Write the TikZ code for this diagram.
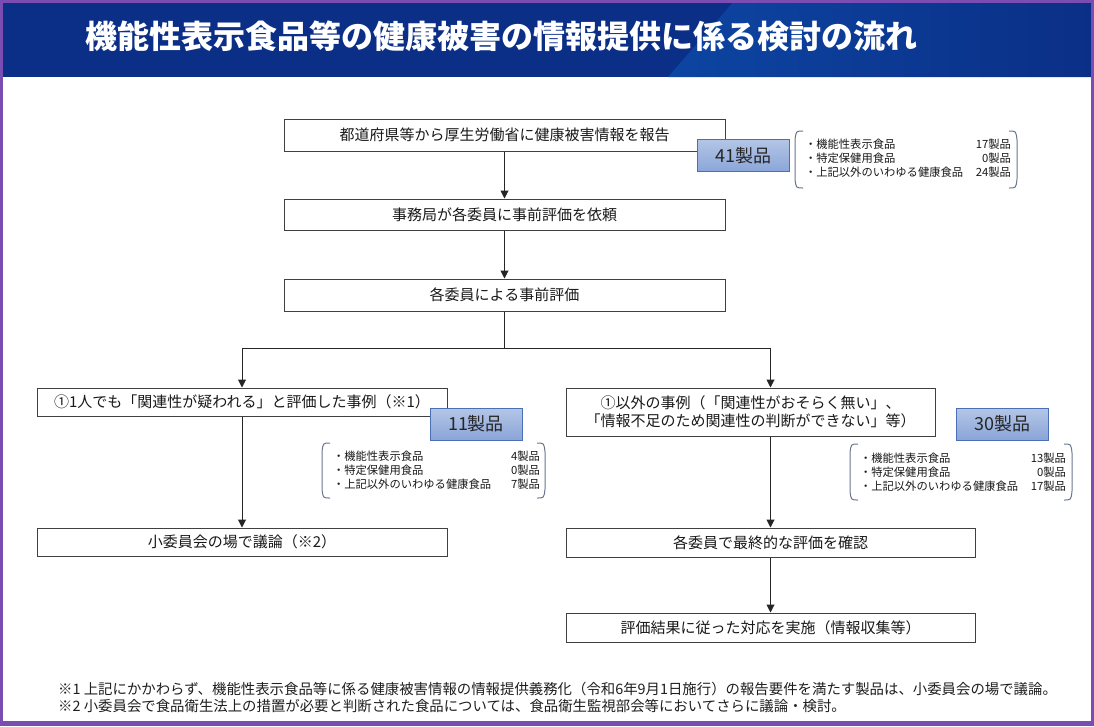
\documentclass[tikz,border=0pt]{standalone}
\usepackage{fontspec}
\setmainfont{Noto Sans CJK JP}
\usetikzlibrary{arrows.meta,calc}
\definecolor{navy}{HTML}{0B2F86}
\definecolor{navylight}{HTML}{0C45A2}
\definecolor{framecol}{HTML}{7A4DB3}
\definecolor{boxline}{HTML}{404040}
\definecolor{cntfillT}{HTML}{B4C6E7}
\definecolor{cntfillB}{HTML}{8AA5D8}
\definecolor{cntline}{HTML}{4A6FB5}
\definecolor{brk}{HTML}{6B7590}
\newcommand\lstbracket[4]{%
  \draw[bracket] ({#1+8},{#2}) .. controls ({#1+1},{#2}) .. ({#1},{#2+9}) -- ({#1},{#4-9}) .. controls ({#1+1},{#4}) .. ({#1+8},{#4});
  \draw[bracket] ({#3-8},{#2}) .. controls ({#3-1},{#2}) .. ({#3},{#2+9}) -- ({#3},{#4-9}) .. controls ({#3-1},{#4}) .. ({#3-8},{#4});}
\begin{document}
\begin{tikzpicture}[x=1pt,y=-1pt,
 box/.style={draw=boxline, fill=white, line width=1pt, inner sep=0pt, align=center, font=\fontsize{15}{18}\selectfont, text=black!90},
 cnt/.style={draw=cntline, line width=1pt, top color=cntfillT, bottom color=cntfillB, inner sep=0pt, font=\fontsize{18}{20}\selectfont, text=black!85, minimum width=92, minimum height=32},
 arr/.style={draw=black!85, line width=1pt, -{Triangle[length=8pt,width=8pt]}},
 lst/.style={inner sep=0pt, font=\fontsize{11.3}{13.8}\selectfont, text=black!90},
 bracket/.style={draw=brk, line width=1pt},
 foot/.style={anchor=west, inner sep=0pt, font=\fontsize{14.4}{17}\selectfont, text=black!88}]
\useasboundingbox (0,0) rectangle (1094,726);
\fill[white] (0,0) rectangle (1094,726);
% header
\fill[navy] (0,0) rectangle (1094,77);
\begin{scope}
\clip (735,0) -- (1094,0) -- (1094,77) -- (668,77) -- cycle;
\shade[left color=navylight, right color=navy] (668,0) rectangle (1094,77);
\end{scope}
\node[anchor=west, inner sep=0pt, text=white, font=\fontsize{32}{36}\selectfont\bfseries] (title) at (85,36) {機能性表示食品等の健康被害の情報提供に係る検討の流れ};
% frame
\draw[framecol, line width=3] (1.5,1.5) rectangle (1092.5,724.5);
\fill[framecol] (0,721) rectangle (1094,726);
% main column
\node[box, minimum width=441, minimum height=32] (b1) at (504.5,135) {都道府県等から厚生労働省に健康被害情報を報告};
\node[box, minimum width=441, minimum height=31] (b2) at (504.5,214.5) {事務局が各委員に事前評価を依頼};
\node[box, minimum width=441, minimum height=32] (b3) at (504.5,295) {各委員による事前評価};
\lstbracket{795}{131}{1017}{188}
\node[lst] (l1) at (908,160) {\begin{tabular*}{206pt}{@{}l@{\extracolsep{\fill}}r@{}}・機能性表示食品 & 17製品\\ ・特定保健用食品 & 0製品\\ ・上記以外のいわゆる健康食品 & 24製品\end{tabular*}};
% left branch
\node[box, minimum width=410, minimum height=28] (lb1) at (242,402) {①1人でも「関連性が疑われる」と評価した事例（※1）};
\lstbracket{322}{443}{545}{498}
\node[lst] (l2) at (436.5,471.5) {\begin{tabular*}{207pt}{@{}l@{\extracolsep{\fill}}r@{}}・機能性表示食品 & 4製品\\ ・特定保健用食品 & 0製品\\ ・上記以外のいわゆる健康食品 & 7製品\end{tabular*}};
\node[box, minimum width=410, minimum height=28] (lb2) at (242,542) {小委員会の場で議論（※2）};
% right branch
\node[box, minimum width=369, minimum height=48] (rb1) at (750.5,412) {①以外の事例（「関連性がおそらく無い」、\\「情報不足のため関連性の判断ができない」等）};
\lstbracket{850}{444}{1072}{500}
\node[lst] (l3) at (963,474) {\begin{tabular*}{206pt}{@{}l@{\extracolsep{\fill}}r@{}}・機能性表示食品 & 13製品\\ ・特定保健用食品 & 0製品\\ ・上記以外のいわゆる健康食品 & 17製品\end{tabular*}};
\node[box, minimum width=409, minimum height=29] (rb2) at (770.5,542.5) {各委員で最終的な評価を確認};
\node[box, minimum width=409, minimum height=29] (rb3) at (770.5,627.5) {評価結果に従った対応を実施（情報収集等）};
% connectors
\coordinate (j) at (504.5,348);
\draw[arr] (b1.south) -- (b2.north);
\draw[arr] (b2.south) -- (b3.north);
\draw[draw=black!85, line width=1pt] (b3.south) -- (j);
\draw[arr] (j) -| (lb1.north);
\draw[arr] (j) -| (rb1.north -| rb2.north);
\draw[arr] (lb1.south) -- (lb2.north);
\draw[arr] (rb1.south -| rb2.north) -- (rb2.north);
\draw[arr] (rb2.south) -- (rb3.north);
% count boxes on top
\node[cnt] (c1) at (743.5,155.5) {41製品};
\node[cnt] (c2) at (476,424) {11製品};
\node[cnt] (c3) at (1002.5,424) {30製品};
% footnotes
\node[foot] (fn1) at (58,689) {※1 上記にかかわらず、機能性表示食品等に係る健康被害情報の情報提供義務化（令和6年9月1日施行）の報告要件を満たす製品は、小委員会の場で議論。};
\node[foot] (fn2) at (58,706) {※2 小委員会で食品衛生法上の措置が必要と判断された食品については、食品衛生監視部会等においてさらに議論・検討。};
\end{tikzpicture}
\end{document}
